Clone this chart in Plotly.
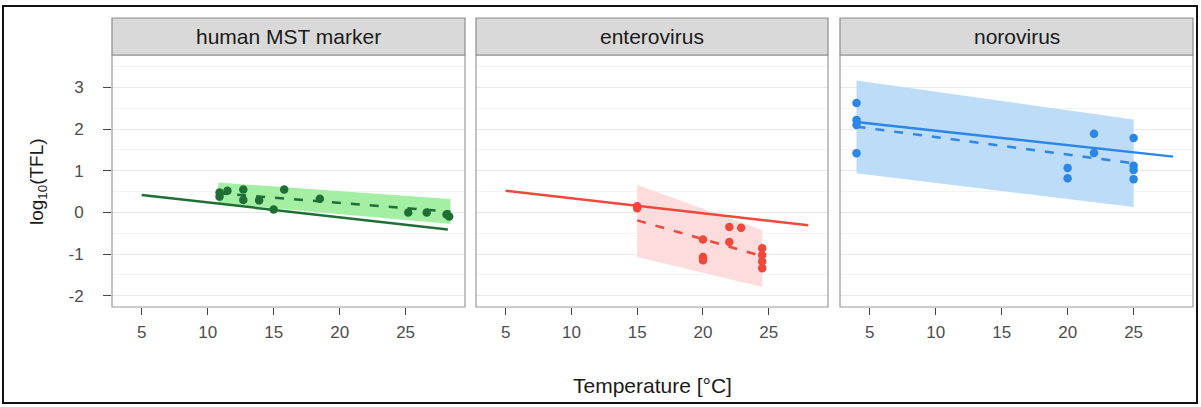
import plotly.graph_objects as go

# ---------------- data ----------------
panels = ["human MST marker", "enterovirus", "norovirus"]

# observed points
hm_temp = [10.9, 10.9, 11.5, 12.7, 12.7, 13.9, 15.0, 15.8, 18.5, 25.2, 26.6, 28.1, 28.3]
hm_tfl = [0.48, 0.38, 0.52, 0.55, 0.30, 0.29, 0.07, 0.55, 0.33, 0.00, 0.00, -0.05, -0.10]

ev_temp = [15.0, 15.0, 20.0, 20.0, 20.0, 22.0, 22.9, 22.0, 24.5, 24.5, 24.5, 24.5]
ev_tfl = [0.15, 0.10, -0.65, -1.07, -1.15, -0.35, -0.37, -0.71, -0.86, -1.02, -1.18, -1.34]

nv_temp = [4.0, 4.0, 4.0, 4.0, 20.0, 20.0, 22.0, 22.0, 25.0, 25.0, 25.0, 25.0]
nv_tfl = [2.63, 2.22, 2.10, 1.42, 1.07, 0.82, 1.89, 1.43, 1.79, 1.12, 1.02, 0.80]

# solid reference lines (temp range, log10 TFL)
hm_ref_temp = [5.0, 28.2]
hm_ref_tfl = [0.42, -0.41]
ev_ref_temp = [5.0, 28.0]
ev_ref_tfl = [0.52, -0.31]
nv_ref_temp = [4.0, 28.0]
nv_ref_tfl = [2.17, 1.34]

# dashed fitted lines with confidence band
hm_fit_temp = [10.8, 28.4]
hm_fit_tfl = [0.46, 0.02]
hm_fit_lo = [0.22, -0.28]
hm_fit_hi = [0.72, 0.32]

ev_fit_temp = [15.0, 24.5]
ev_fit_tfl = [-0.19, -1.05]
ev_fit_lo = [-1.07, -1.79]
ev_fit_hi = [0.66, -0.42]

nv_fit_temp = [4.0, 25.0]
nv_fit_tfl = [2.06, 1.18]
nv_fit_lo = [0.94, 0.13]
nv_fit_hi = [3.17, 2.23]

x_ticks = [5, 10, 15, 20, 25]
y_ticks = [-2, -1, 0, 1, 2, 3]
y_tick_labels = ["-2", "-1", "0", "1", "2", "3"]

series = [
    (hm_temp, hm_tfl, hm_ref_temp, hm_ref_tfl, hm_fit_temp, hm_fit_tfl, hm_fit_lo, hm_fit_hi),
    (ev_temp, ev_tfl, ev_ref_temp, ev_ref_tfl, ev_fit_temp, ev_fit_tfl, ev_fit_lo, ev_fit_hi),
    (nv_temp, nv_tfl, nv_ref_temp, nv_ref_tfl, nv_fit_temp, nv_fit_tfl, nv_fit_lo, nv_fit_hi),
]
main_colors = ["#1f6f35", "#f0483a", "#2b86e6"]
band_colors = ["#a4efa4", "#fcdcdc", "#bddcf8"]

# ---------------- layout geometry ----------------
W, H = 1201, 407
panel_px = [(112, 465), (476, 828), (840, 1193)]
plot_top, plot_bot = 55, 307
strip_top = 18

fig = go.Figure()

for i, (pt, pv, rt, rv, ft, fv, flo, fhi) in enumerate(series):
    xa = "x" if i == 0 else f"x{i+1}"
    ya = "y" if i == 0 else f"y{i+1}"
    c = main_colors[i]
    fig.add_trace(go.Scatter(
        x=[ft[0], ft[1], ft[1], ft[0]], y=[fhi[0], fhi[1], flo[1], flo[0]],
        fill="toself", fillcolor=band_colors[i], mode="lines", line=dict(width=0),
        xaxis=xa, yaxis=ya, showlegend=False, hoverinfo="skip"))
    fig.add_trace(go.Scatter(x=rt, y=rv, mode="lines", line=dict(color=c, width=2.5),
                             xaxis=xa, yaxis=ya, showlegend=False))
    fig.add_trace(go.Scatter(x=ft, y=fv, mode="lines", line=dict(color=c, width=2.5, dash="9px,10px"),
                             xaxis=xa, yaxis=ya, showlegend=False))
    fig.add_trace(go.Scatter(x=pt, y=pv, mode="markers", marker=dict(color=c, size=8.5),
                             xaxis=xa, yaxis=ya, showlegend=False))

layout = dict(
    width=W, height=H,
    margin=dict(l=0, r=0, t=0, b=0, pad=0),
    paper_bgcolor="white", plot_bgcolor="white",
    font=dict(family="Liberation Sans, Arial, sans-serif", color="#4d4d4d"),
)
ydom = [(H - plot_bot) / H, (H - plot_top) / H]
for i, (l, r) in enumerate(panel_px):
    suffix = "" if i == 0 else str(i + 1)
    layout["xaxis" + suffix] = dict(
        domain=[l / W, r / W], range=[2.75, 29.5], anchor="y" + suffix,
        tickvals=x_ticks, ticks="outside", ticklen=7, tickcolor="#444444", tickwidth=1,
        ticklabelstandoff=3,
        tickfont=dict(size=17, color="#4d4d4d"), showgrid=False, zeroline=False,
        showline=False, fixedrange=True)
    layout["yaxis" + suffix] = dict(
        domain=ydom, range=[-2.27, 3.78], anchor="x" + suffix,
        tickvals=y_ticks, ticktext=y_tick_labels,
        ticks="outside" if i == 0 else "", ticklen=8, ticklabelstandoff=16,
        tickcolor="#444444", showticklabels=(i == 0),
        tickfont=dict(size=17, color="#4d4d4d"),
        showgrid=True, gridcolor="#e8e8e8", gridwidth=1, zeroline=False,
        minor=dict(dtick=0.5, tick0=0, showgrid=True, gridcolor="#f3f3f3", gridwidth=1),
        showline=False, fixedrange=True)
fig.update_layout(**layout)

shapes = []
annotations = []
for i, (l, r) in enumerate(panel_px):
    # panel border
    shapes.append(dict(type="rect", xref="paper", yref="paper",
                       x0=l / W, x1=r / W, y0=ydom[0], y1=ydom[1],
                       line=dict(color="#9a9a9a", width=1.2), fillcolor="rgba(0,0,0,0)", layer="above"))
    # strip
    shapes.append(dict(type="rect", xref="paper", yref="paper",
                       x0=l / W, x1=r / W, y0=(H - plot_top) / H, y1=(H - strip_top) / H,
                       line=dict(color="#8c8c8c", width=1.2), fillcolor="#d9d9d9"))
    annotations.append(dict(text=panels[i], xref="paper", yref="paper",
                            x=(l + r) / 2 / W, y=(H - (strip_top + plot_top) / 2) / H,
                            showarrow=False, xanchor="center", yanchor="middle",
                            font=dict(size=21, color="#1a1a1a")))
# outer frame
shapes.append(dict(type="rect", xref="paper", yref="paper",
                   x0=3 / W, x1=1197 / W, y0=4 / H, y1=(H - 6) / H,
                   line=dict(color="#111111", width=2), fillcolor="rgba(0,0,0,0)"))
annotations.append(dict(text="Temperature [°C]", xref="paper", yref="paper",
                        x=652 / W, y=(H - 385) / H, showarrow=False,
                        xanchor="center", yanchor="middle", font=dict(size=21, color="#1a1a1a")))
annotations.append(dict(text="log<sub>10</sub>(TFL)", xref="paper", yref="paper",
                        x=38 / W, y=(H - 182) / H, showarrow=False, textangle=-90,
                        xanchor="center", yanchor="middle", font=dict(size=19, color="#1a1a1a")))
fig.update_layout(shapes=shapes, annotations=annotations)

fig.write_html("out.html")
